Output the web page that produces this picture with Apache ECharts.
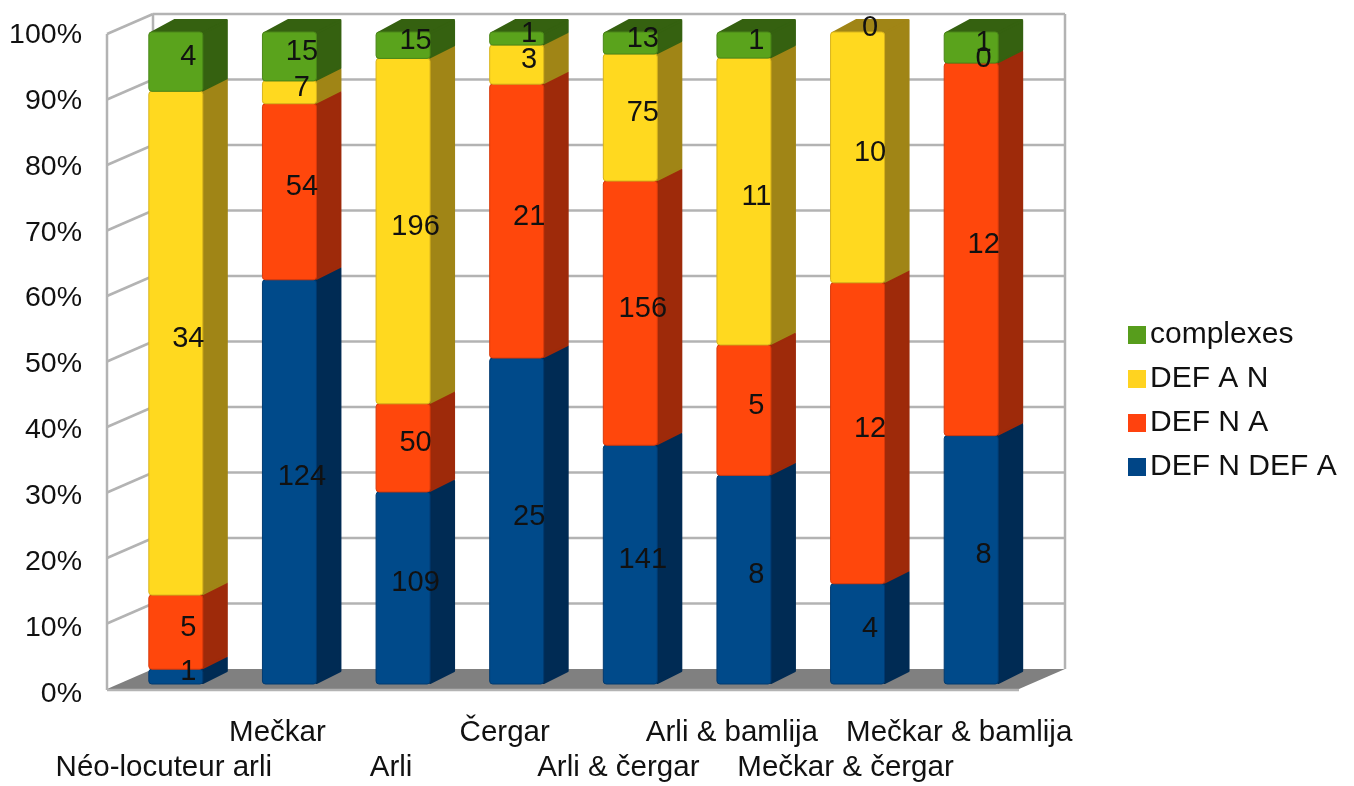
<!DOCTYPE html>
<html><head><meta charset="utf-8">
<style>html,body{margin:0;padding:0;background:#fff}#c{width:1354px;height:786px}</style>
<script src="https://cdn.jsdelivr.net/npm/echarts@6/dist/echarts.min.js"></script>
</head><body><div id="c"></div>
<script>
const categories = ['Néo-locuteur arli','Mečkar','Arli','Čergar','Arli & čergar','Arli & bamlija','Mečkar & čergar','Mečkar & bamlija'];
const defNDefA = [1,124,109,25,141,8,4,8];
const defNA = [5,54,50,21,156,5,12,12];
const defAN = [34,7,196,3,75,11,10,0];
const complexes = [4,15,15,1,13,1,0,1];
const yTicks = [0,10,20,30,40,50,60,70,80,90,100];
const seriesNames = ['DEF N DEF A','DEF N A','DEF A N','complexes'];
const legendOrder = ['complexes','DEF A N','DEF N A','DEF N DEF A'];
const legendColors = ['#004586','#ff420e','#ffd320','#579d1c'];
const frontColors = ['#004a8a','#ff470c','#ffd91f','#5aa31c'];
const sideColors = ['#002b54','#9e2a0a','#a08516','#356110'];
const edgeColors = ['#003a70','#d83a0c','#d8b41c','#4a8618'];
const stacks = [defNDefA,defNA,defAN,complexes];
const font = '"Liberation Sans", Arial, sans-serif';
const GRID = {left:107, top:35, width:909, height:659};

// the axis grid -> projected planes of the pseudo-3D box
const WALL = {y100:34, y0:689, dx:46, dy:-20, rightPad:3};
const BAR = {y100:32, y0:684, dx:12, halfW:27, sideX:25, sideY:-12};
function mapY(py, plane){ const t=(py-GRID.top)/GRID.height; return plane.y100 + t*(plane.y0-plane.y100); }

function renderBox(params, api){
  const cs = params.coordSys, L=cs.x, R=cs.x+cs.width+WALL.rightPad;
  const wy = v => mapY(api.coord([0,v])[1], WALL);
  const top=wy(100), bot=wy(0), dx=WALL.dx, dy=WALL.dy;
  const kids=[];
  const line=(a,b,c,d)=>kids.push({type:'line',shape:{x1:a,y1:b,x2:c,y2:d},style:{stroke:'#b3b3b3',lineWidth:2.5}});
  kids.push({type:'polygon',shape:{points:[[L,bot],[R,bot],[R+dx,bot+dy],[L+dx,bot+dy]]},style:{fill:'#808080'}});
  yTicks.forEach(v=>{ const y=wy(v);
    if(v>0){ line(L,y,L+dx,y+dy); line(L+dx,y+dy,R+dx,y+dy); }
  });
  line(L,top,L,bot+1);
  line(L+dx,top+dy,L+dx,bot+dy);
  line(R+dx,top+dy,R+dx,bot+dy);
  line(L,bot+1,R,bot+1);
  return {type:'group',children:kids};
}

function renderStack(k){
  return function(params, api){
    const i=api.value(0), lo=api.value(1), hi=api.value(2), raw=api.value(3);
    const cx=api.coord([i,0])[0]+BAR.dx;
    const y0=mapY(api.coord([i,lo])[1],BAR), y1=mapY(api.coord([i,hi])[1],BAR);
    const a=cx-BAR.halfW, b=cx+BAR.halfW, sx=BAR.sideX, sy=BAR.sideY;
    const kids=[];
    if(raw>0){
      kids.push({type:'polygon',shape:{points:[[a+2,y1+1],[b,y1+1],[b+sx-1,y1+sy],[a+sx+1,y1+sy]]},style:{fill:sideColors[k],stroke:sideColors[k],lineWidth:2,lineJoin:'round'}});
      kids.push({type:'polygon',shape:{points:[[b,y1+1],[b+sx-1,y1+sy+1],[b+sx-1,y0+sy-1],[b,y0-1]]},style:{fill:sideColors[k],stroke:sideColors[k],lineWidth:2,lineJoin:'round'}});
      kids.push({type:'rect',shape:{x:a,y:y1,width:b-a,height:y0-y1,r:3},style:{fill:frontColors[k],stroke:edgeColors[k],lineWidth:1}});
    }
    kids.push({type:'text',z2:100,style:{text:String(raw),x:cx+sx/2,y:(y0+y1)/2+sy/2+1.5,align:'center',verticalAlign:'middle',font:'29px '+font,fill:'#111'}});
    return {type:'group',children:kids};
  };
}

const totals = categories.map((_,i)=>stacks.reduce((s,a)=>s+a[i],0));
function stackData(k){
  return categories.map((_,i)=>{
    let below=0; for(let j=0;j<k;j++) below+=stacks[j][i];
    return [i,100*below/totals[i],100*(below+stacks[k][i])/totals[i],stacks[k][i]];
  });
}

const chart=echarts.init(document.getElementById('c'),null,{renderer:'canvas'});
chart.setOption({
  animation:false,
  backgroundColor:'#fff',
  grid:{left:GRID.left,top:GRID.top,width:GRID.width,height:GRID.height,containLabel:false},
  legend:{
    data:legendOrder, orient:'vertical', left:1123, top:315, itemWidth:18, itemHeight:18, itemGap:14, icon:'rect',
    textStyle:{fontFamily:font,fontSize:30,color:'#111',padding:[0,0,0,-1]}
  },
  xAxis:{type:'category',data:categories,axisLine:{show:false},axisTick:{show:false},
    axisLabel:{interval:0,margin:21,fontFamily:font,fontSize:29.5,color:'#111',lineHeight:35,hideOverlap:false,
      formatter:(v,idx)=> idx%2===1 ? v+'\n ' : ' \n'+v}},
  yAxis:{type:'value',min:0,max:100,interval:10,axisLine:{show:false},axisTick:{show:false},splitLine:{show:false},
    axisLabel:{margin:25,fontFamily:font,fontSize:28.5,color:'#111',formatter:'{value}%'}},
  series:[
    {type:'custom',name:'box',silent:true,renderItem:renderBox,data:[[0,0]],encode:{x:0,y:1},clip:false,z:1},
    ...stacks.map((_,k)=>({type:'custom',name:seriesNames[k],renderItem:renderStack(k),data:stackData(k),
      encode:{x:0,y:[1,2]},clip:false,z:2,itemStyle:{color:legendColors[k]}}))
  ]
});
</script></body></html>
